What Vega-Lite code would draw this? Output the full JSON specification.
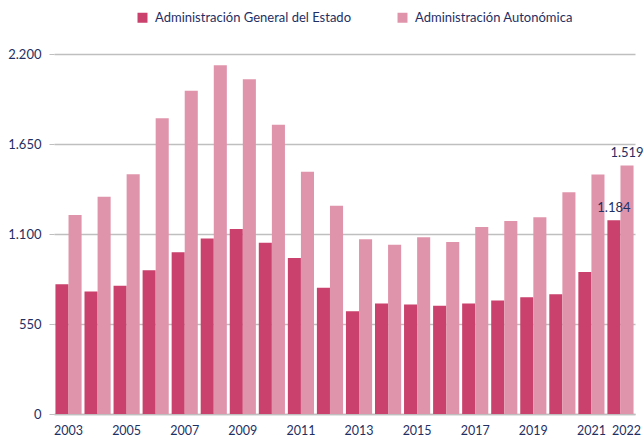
{
  "$schema": "https://vega.github.io/schema/vega-lite/v6.json",
  "width": 581,
  "height": 360,
  "autosize": "none",
  "padding": {"left": 54, "top": 54, "right": 9, "bottom": 25},
  "background": "white",
  "config": {
    "font": "Lato",
    "view": {"stroke": null},
    "locale": {"number": {"decimal": ",", "thousands": ".", "grouping": [3], "currency": ["", " €"]}}
  },
  "data": {
    "values": [
      {"year": "2003", "serie": "Administración General del Estado", "value": 793},
      {"year": "2004", "serie": "Administración General del Estado", "value": 748},
      {"year": "2005", "serie": "Administración General del Estado", "value": 783},
      {"year": "2006", "serie": "Administración General del Estado", "value": 879},
      {"year": "2007", "serie": "Administración General del Estado", "value": 988},
      {"year": "2008", "serie": "Administración General del Estado", "value": 1072},
      {"year": "2009", "serie": "Administración General del Estado", "value": 1131},
      {"year": "2010", "serie": "Administración General del Estado", "value": 1047},
      {"year": "2011", "serie": "Administración General del Estado", "value": 954},
      {"year": "2012", "serie": "Administración General del Estado", "value": 771},
      {"year": "2013", "serie": "Administración General del Estado", "value": 628},
      {"year": "2014", "serie": "Administración General del Estado", "value": 675},
      {"year": "2015", "serie": "Administración General del Estado", "value": 669},
      {"year": "2016", "serie": "Administración General del Estado", "value": 661},
      {"year": "2017", "serie": "Administración General del Estado", "value": 675},
      {"year": "2018", "serie": "Administración General del Estado", "value": 694},
      {"year": "2019", "serie": "Administración General del Estado", "value": 714},
      {"year": "2020", "serie": "Administración General del Estado", "value": 732},
      {"year": "2021", "serie": "Administración General del Estado", "value": 868},
      {"year": "2022", "serie": "Administración General del Estado", "value": 1184},
      {"year": "2003", "serie": "Administración Autonómica", "value": 1216},
      {"year": "2004", "serie": "Administración Autonómica", "value": 1328},
      {"year": "2005", "serie": "Administración Autonómica", "value": 1465},
      {"year": "2006", "serie": "Administración Autonómica", "value": 1807},
      {"year": "2007", "serie": "Administración Autonómica", "value": 1976},
      {"year": "2008", "serie": "Administración Autonómica", "value": 2131},
      {"year": "2009", "serie": "Administración Autonómica", "value": 2045},
      {"year": "2010", "serie": "Administración Autonómica", "value": 1768},
      {"year": "2011", "serie": "Administración Autonómica", "value": 1481},
      {"year": "2012", "serie": "Administración Autonómica", "value": 1273},
      {"year": "2013", "serie": "Administración Autonómica", "value": 1068},
      {"year": "2014", "serie": "Administración Autonómica", "value": 1035},
      {"year": "2015", "serie": "Administración Autonómica", "value": 1080},
      {"year": "2016", "serie": "Administración Autonómica", "value": 1051},
      {"year": "2017", "serie": "Administración Autonómica", "value": 1143},
      {"year": "2018", "serie": "Administración Autonómica", "value": 1180},
      {"year": "2019", "serie": "Administración Autonómica", "value": 1202},
      {"year": "2020", "serie": "Administración Autonómica", "value": 1355},
      {"year": "2021", "serie": "Administración Autonómica", "value": 1463},
      {"year": "2022", "serie": "Administración Autonómica", "value": 1519}
    ]
  },
  "encoding": {
    "x": {
      "field": "year",
      "type": "ordinal",
      "scale": {"paddingInner": 0.1, "paddingOuter": 0.05},
      "axis": {
        "title": null,
        "labelAngle": 0,
        "ticks": false,
        "domainColor": "#BFBFBF",
        "domainWidth": 1.5,
        "labelColor": "#1F2F63",
        "labelFontSize": 12.5,
        "labelPadding": 10,
        "labelOverlap": false,
        "labelOffset": {"condition": {"test": "datum.value == '2022'", "value": 6}, "value": 0},
        "labelExpr": "(toNumber(datum.value) % 2 == 1 || datum.value == '2022') ? datum.value : ''"
      }
    },
    "xOffset": {
      "field": "serie",
      "sort": ["Administración General del Estado", "Administración Autonómica"]
    },
    "y": {
      "field": "value",
      "type": "quantitative",
      "scale": {"domain": [0, 2200]},
      "axis": {
        "title": null,
        "values": [0, 550, 1100, 1650, 2200],
        "format": ",d",
        "domain": false,
        "tickSize": 5,
        "tickColor": "#BFBFBF",
        "gridColor": "#BFBFBF",
        "gridWidth": 1.5,
        "labelColor": "#1F2F63",
        "labelFontSize": 13,
        "labelPadding": 8
      }
    }
  },
  "layer": [
    {
      "mark": {"type": "bar"},
      "encoding": {
        "color": {
          "field": "serie",
          "type": "nominal",
          "sort": ["Administración General del Estado", "Administración Autonómica"],
          "scale": {"range": ["#C9416C", "#E094AC"]},
          "legend": {
            "title": null,
            "orient": "none",
            "legendX": 82,
            "legendY": -43,
            "direction": "horizontal",
            "symbolType": "square",
            "symbolSize": 100,
            "symbolStrokeWidth": 0,
            "labelFontSize": 13,
            "labelLimit": 400,
            "labelColor": "#1F2F63",
            "columnPadding": 44,
            "labelOffset": 6
          }
        }
      }
    },
    {
      "transform": [{"filter": "datum.year == '2022'"}],
      "mark": {"type": "text", "baseline": "bottom", "dy": -5, "fontSize": 13, "color": "#1F2F63"},
      "encoding": {
        "text": {"field": "value", "type": "quantitative", "format": ",d"}
      }
    }
  ]
}
